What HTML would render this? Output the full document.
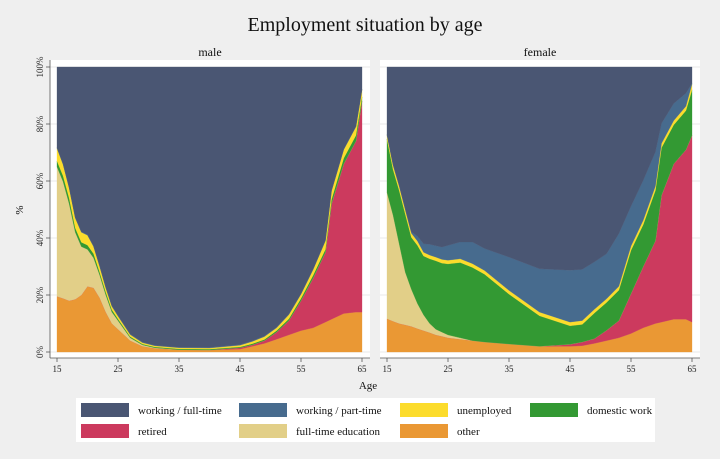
<!DOCTYPE html>
<html><head><meta charset="utf-8"><style>
html,body{margin:0;padding:0;background:#efefef;}
svg{display:block;font-family:"Liberation Serif",serif;}
</style></head><body>
<svg id="chart" width="720" height="459" viewBox="0 0 720 459">
<rect x="0" y="0" width="720" height="459" fill="#efefef"/>
<text x="365" y="31" font-size="20" text-anchor="middle" fill="#111">Employment situation by age</text>
<text x="210" y="56" font-size="12" text-anchor="middle" fill="#111">male</text>
<text x="540" y="56" font-size="12" text-anchor="middle" fill="#111">female</text>
<text x="23" y="210" font-size="11" text-anchor="middle" fill="#111" transform="rotate(-90 23 210)">%</text>
<text x="368" y="389" font-size="11" text-anchor="middle" fill="#111">Age</text>
<g id="panels"></g>
<g id="legend"></g>
</svg>
<script>
const ages=[15,16,17,18,19,20,21,22,23,24,25,27,29,31,35,40,45,47,49,51,53,55,57,59,60,62,64,65];
const seriesNames=["other","retired","full-time education","domestic work","unemployed","working / part-time","working / full-time"];
const seriesColors=["#ea9834","#cc3a5e","#e2cf88","#339933","#fcdc2c","#476b8e","#4a5673"];
const maleOther=[19.5,18.8,18,18.5,20,23,22.5,19,14,10,8,4,2,1.3,0.8,0.7,1,2,3,4.5,6,7.5,8.5,10.5,11.5,13.5,14,14];
const maleRetired=[0,0,0,0,0,0,0,0,0,0,0,0,0,0,0,0,0.5,0.5,1,2.5,5,10.5,17.5,24.5,40.5,52.5,60,74];
const maleEdu=[45.5,41,34,23.5,17,13,10.5,8,6,4,3,1,0.5,0.2,0,0,0,0,0,0,0,0,0,0,0,0,0,0];
const maleDomestic=[2,2,2,1.5,1.5,1.5,1.5,1,1,0.8,0.6,0.4,0.3,0.3,0.3,0.3,0.3,0.4,0.4,0.5,0.6,0.8,1,1,1.5,2,2,1.5];
const maleUnemp=[4.5,4,3.5,3.5,3.5,3.5,2.5,2,1.5,1.2,1,0.7,0.5,0.4,0.4,0.4,0.6,0.8,1,1,1.5,1.5,2,3,3,3,3,2.5];
const malePart=[0.2,0.2,0.2,0.2,0.2,0.2,0.2,0.2,0.2,0.2,0.2,0.2,0.2,0.2,0.2,0.2,0.2,0.2,0.2,0.2,0.2,0.2,0.2,0.2,0.2,0.2,0.2,0.2];
const femaleOther=[11.7,10.8,10,9.5,9,8.2,7.5,6.8,6,5.5,5,4.5,4,3.5,2.8,2,2,2.2,3,4,5,6.5,8.5,10,10.5,11.5,11.5,10.5];
const femaleRetired=[0,0,0,0,0,0,0,0,0,0,0,0,0,0,0,0,0.7,1.3,1.7,3.6,6,14,21.5,29,44.5,54.5,59.5,65.5];
const femaleEdu=[44.3,37.2,28,18.5,13,8.8,5.5,3.2,2,1.5,1,0.5,0,0,0,0,0,0,0,0,0,0,0,0,0,0,0,0];
const femaleDomestic=[18.7,16,18.7,20.4,18.2,20.4,20.7,22.7,24,24.2,24.9,26.4,25.7,23.8,17.5,10.7,6.5,6.2,9,9.8,10.7,15.2,14.7,17.7,16.7,13.7,13.7,16];
const femaleUnemp=[1.3,1.5,1.5,1.5,1.5,1.5,1.3,1.3,1.3,1.3,1.3,1.3,1.3,1.3,1.3,1.3,1.3,1.3,1.3,1.3,1.3,1.5,1.5,1.5,1.5,1.5,1.5,2];
const femalePart=[0.3,0.3,0.3,0.3,0.5,1.7,3,3.8,4,4.3,5.2,5.9,7.6,7.7,11.7,15.2,18.2,18,16.6,15.8,18.5,14,14,12,7,6,4.6,0.3];
const xTicks=[15,25,35,45,55,65];
const yTicks=[0,20,40,60,80,100];

const NS="http://www.w3.org/2000/svg";
function mk(tag,attrs,parent){const e=document.createElementNS(NS,tag);for(const k in attrs)e.setAttribute(k,attrs[k]);parent.appendChild(e);return e;}
const yTop=67,yBot=352;
function yScale(v){return yBot-(v/100)*(yBot-yTop);}

function drawPanel(name,x0,x1,boxL,boxR,series,showY){
  const g=mk("g",{},document.getElementById("panels"));
  
  
  const xs=a=>x0+(a-ages[0])/(ages[ages.length-1]-ages[0])*(x1-x0);
  const bg=mk("rect",{x:boxL,y:60,width:boxR-boxL,height:298,fill:"#ffffff"},g);
  
  
  yTicks.forEach(t=>{
    const gl=mk("line",{x1:boxL,x2:boxR,y1:yScale(t),y2:yScale(t),stroke:"#e8e8e8","stroke-width":1},g);
    
    
  });
  const full=ages.map((a,i)=>100-series.reduce((s,arr)=>s+arr[i],0));
  const all=series.concat([full]);
  let base=ages.map(()=>0);
  all.forEach((arr,si)=>{
    const top=base.map((b,i)=>b+arr[i]);
    let d="M"+ages.map((a,i)=>xs(a).toFixed(1)+","+yScale(top[i]).toFixed(1)).join("L");
    for(let i=ages.length-1;i>=0;i--)d+="L"+xs(ages[i]).toFixed(1)+","+yScale(base[i]).toFixed(1);
    const p=mk("path",{d:d+"Z",fill:seriesColors[si],stroke:seriesColors[si],"stroke-width":0.3},g);
    
    
    base=top;
  });
  const ax=mk("line",{x1:boxL,x2:boxR,y1:358,y2:358,stroke:"#555","stroke-width":0.8},g);
  
  
  xTicks.forEach(t=>{
    const tk=mk("line",{x1:xs(t),x2:xs(t),y1:358,y2:362,stroke:"#555","stroke-width":0.8},g);
    
    
    const tl=mk("text",{x:xs(t),y:372,"font-size":9,"text-anchor":"middle",fill:"#222"},g);
    tl.textContent=t;
    
    
  });
  if(showY){
    const ya=mk("line",{x1:boxL,x2:boxL,y1:60,y2:358,stroke:"#555","stroke-width":0.8},g);
    
    
    yTicks.forEach(t=>{
      const tk=mk("line",{x1:boxL-4,x2:boxL,y1:yScale(t),y2:yScale(t),stroke:"#555","stroke-width":0.8},g);
      
      
      const y=yScale(t);
      const tl=mk("text",{x:43,y:y,"font-size":9,"text-anchor":"middle",fill:"#222",transform:"rotate(-90 43 "+y+")"},g);
      tl.textContent=t+"%";
      
      
    });
  }
}
drawPanel("male",57,362,50,370,[maleOther,maleRetired,maleEdu,maleDomestic,maleUnemp,malePart],true);
drawPanel("female",387,692,380,700,[femaleOther,femaleRetired,femaleEdu,femaleDomestic,femaleUnemp,femalePart],false);

const lg=document.getElementById("legend");
const lb=mk("rect",{x:76,y:398,width:579,height:44,fill:"#ffffff"},lg);


const legendOrder=[6,5,4,3,1,2,0];
const colX=[81,239,400,530];
legendOrder.forEach((si,k)=>{
  const cx=colX[k%4], cy=k<4?403:424;
  const sw=mk("rect",{x:cx,y:cy,width:48,height:14,fill:seriesColors[si]},lg);
  
  
  const t=mk("text",{x:cx+57,y:cy+11,"font-size":11,fill:"#111"},lg);
  t.textContent=seriesNames[si];
  
  
});
</script>
</body></html>
